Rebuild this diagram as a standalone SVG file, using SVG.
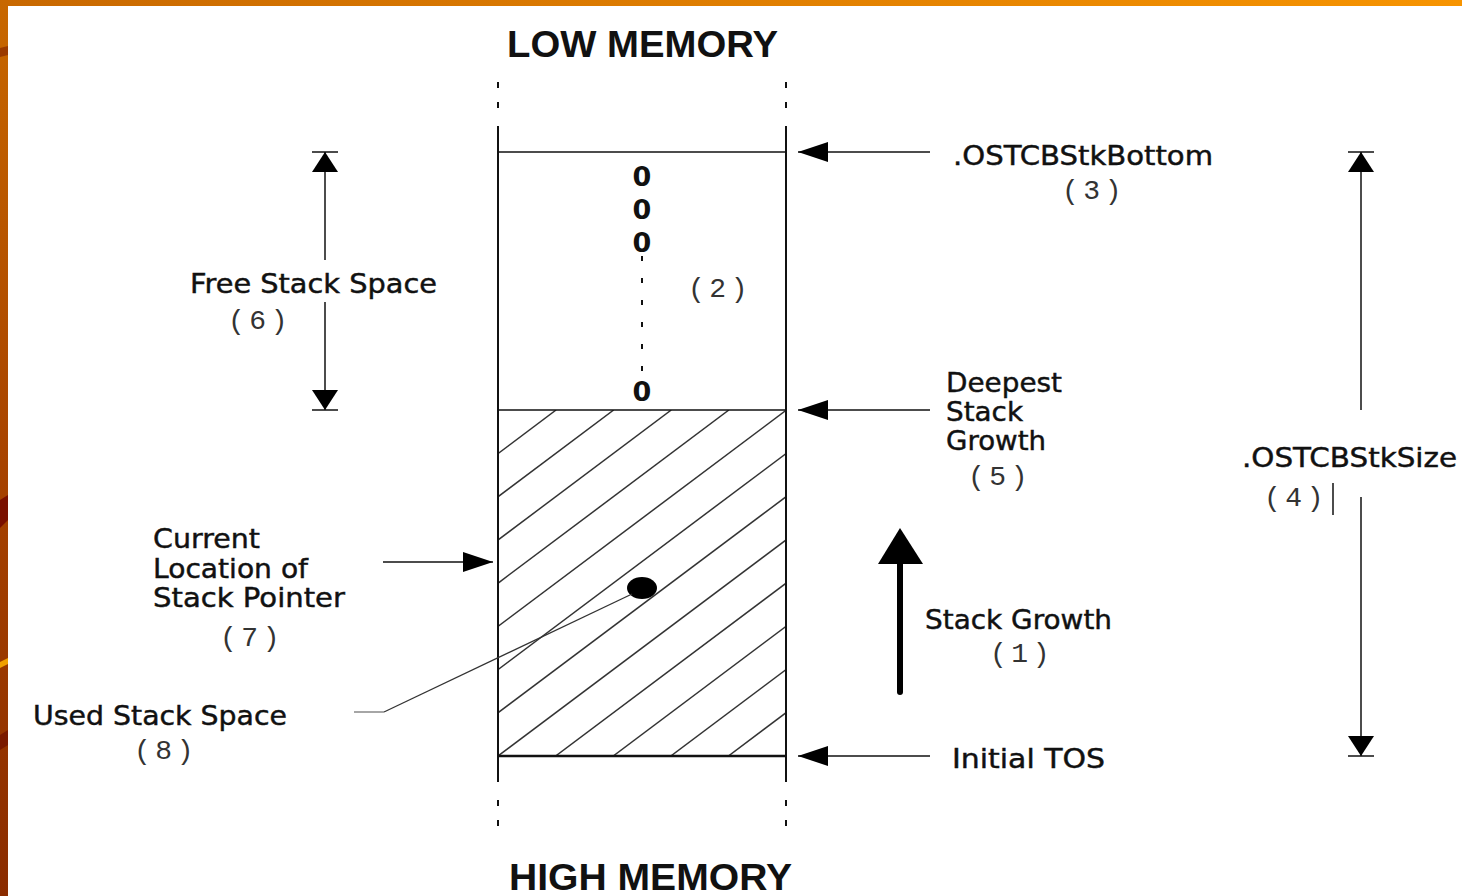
<svg xmlns="http://www.w3.org/2000/svg" width="1462" height="896" viewBox="0 0 1462 896">
  <defs>
    <linearGradient id="topBar" x1="0" y1="0" x2="1" y2="0">
      <stop offset="0" stop-color="#c86800"/>
      <stop offset="1" stop-color="#f79400"/>
    </linearGradient>
    <linearGradient id="leftBar" x1="0" y1="0" x2="0" y2="1">
      <stop offset="0" stop-color="#c86800"/>
      <stop offset="0.5" stop-color="#a84400"/>
      <stop offset="1" stop-color="#8a2c00"/>
    </linearGradient>
    <marker id="ptr" markerUnits="userSpaceOnUse" markerWidth="30" markerHeight="20" refX="30" refY="10" orient="auto">
      <path d="M0,0 L30,10 L0,20 z" fill="#000"/>
    </marker>
    <marker id="dim" markerUnits="userSpaceOnUse" markerWidth="20" markerHeight="26" refX="20" refY="13" orient="auto">
      <path d="M0,0 L20,13 L0,26 z" fill="#000"/>
    </marker>
    <clipPath id="usedClip">
      <rect x="498" y="410" width="288" height="346"/>
    </clipPath>
    <style>
      .lbl { font-family: "DejaVu Sans", "Liberation Sans", sans-serif; font-size: 27px; fill: #111; stroke: #111; stroke-width: 0.45; }
      .num { font-family: "Liberation Mono", "DejaVu Sans Mono", monospace; font-size: 28px; fill: #333; letter-spacing: 4.5px; text-anchor: middle; }
      .title { font-family: "Liberation Sans", Arial, sans-serif; font-weight: bold; font-size: 37px; fill: #111; }
      .zero { font-family: "DejaVu Sans", sans-serif; font-weight: bold; font-size: 27px; fill: #111; text-anchor: middle; }
      .thin { stroke: #111; stroke-width: 1.5; fill: none; }
      .edge { stroke: #111; stroke-width: 2; fill: none; }
      .hatch { stroke: #333; stroke-width: 1.5; }
    </style>
  </defs>

  <rect x="0" y="0" width="1462" height="896" fill="#fff"/>
  <g id="frame">
    <rect x="0" y="0" width="1462" height="6" fill="url(#topBar)"/>
    <rect x="0" y="0" width="8" height="896" fill="url(#leftBar)"/>
    <path d="M0,48 L8,46 L8,55 L0,57 z" fill="#9a3a00"/>
    <path d="M0,500 L8,495 L8,520 L0,528 z" fill="#7a1000"/>
    <path d="M0,662 L8,658 L8,664 L0,668 z" fill="#f0a000"/>
    <path d="M0,735 L8,730 L8,745 L0,750 z" fill="#7a1a00"/>
  </g>

  <g id="titles">
    <text class="title" x="507" y="57" textLength="271" lengthAdjust="spacingAndGlyphs">LOW MEMORY</text>
    <text class="title" x="509" y="890" textLength="283" lengthAdjust="spacingAndGlyphs">HIGH MEMORY</text>
  </g>

  <g id="stack">
    <g clip-path="url(#usedClip)" class="hatch">
      <line x1="37.2" y1="756" x2="498.5" y2="410"/>
      <line x1="94.8" y1="756" x2="556.1" y2="410"/>
      <line x1="152.4" y1="756" x2="613.7" y2="410"/>
      <line x1="210" y1="756" x2="671.3" y2="410"/>
      <line x1="267.6" y1="756" x2="728.9" y2="410"/>
      <line x1="325.2" y1="756" x2="786.5" y2="410"/>
      <line x1="382.8" y1="756" x2="844.1" y2="410"/>
      <line x1="440.4" y1="756" x2="901.7" y2="410"/>
      <line x1="498" y1="756" x2="959.3" y2="410"/>
      <line x1="555.6" y1="756" x2="1016.9" y2="410"/>
      <line x1="613.2" y1="756" x2="1074.5" y2="410"/>
      <line x1="670.8" y1="756" x2="1132.1" y2="410"/>
      <line x1="728.4" y1="756" x2="1189.7" y2="410"/>
    </g>
    <line class="edge" x1="498" y1="126" x2="498" y2="782"/>
    <line class="edge" x1="786" y1="126" x2="786" y2="782"/>
    <path class="edge" d="M498,82 V88 M498,102 V108 M786,82 V88 M786,102 V108 M498,800 V806 M498,820 V826 M786,800 V806 M786,820 V826"/>
    <line class="thin" x1="498" y1="152" x2="786" y2="152"/>
    <line class="thin" x1="498" y1="410" x2="786" y2="410"/>
    <line stroke="#111" stroke-width="2.5" x1="498" y1="756" x2="786" y2="756"/>
    <text class="zero" x="642" y="186">0</text>
    <text class="zero" x="642" y="219">0</text>
    <text class="zero" x="642" y="252">0</text>
    <line x1="642" y1="256" x2="642" y2="372" stroke="#111" stroke-width="2" stroke-dasharray="5,17"/>
    <text class="zero" x="642" y="401">0</text>
    <text class="num" x="720" y="297">(2)</text>
    <ellipse cx="642" cy="588" rx="15" ry="11" fill="#000"/>
  </g>

  <g id="connectors">
    <line class="thin" x1="930" y1="152" x2="798" y2="152" marker-end="url(#ptr)"/>
    <line class="thin" x1="930" y1="410" x2="798" y2="410" marker-end="url(#ptr)"/>
    <line class="thin" x1="930" y1="756" x2="798" y2="756" marker-end="url(#ptr)"/>
    <line class="thin" x1="383" y1="562" x2="493" y2="562" marker-end="url(#ptr)"/>
    <polyline points="632,594 384,712" fill="none" stroke="#333" stroke-width="1.3"/>
    <line x1="354" y1="712" x2="384" y2="712" stroke="#888" stroke-width="1.5"/>
    <line class="thin" x1="312" y1="152" x2="338" y2="152"/>
    <line class="thin" x1="325" y1="260" x2="325" y2="152" marker-end="url(#dim)"/>
    <line class="thin" x1="325" y1="302" x2="325" y2="410" marker-end="url(#dim)"/>
    <line class="thin" x1="312" y1="410" x2="338" y2="410"/>
    <line class="thin" x1="1348" y1="152" x2="1374" y2="152"/>
    <line class="thin" x1="1361" y1="410" x2="1361" y2="152" marker-end="url(#dim)"/>
    <line class="thin" x1="1361" y1="497" x2="1361" y2="756" marker-end="url(#dim)"/>
    <line class="thin" x1="1348" y1="756" x2="1374" y2="756"/>
    <line class="thin" x1="1333" y1="483" x2="1333" y2="515"/>
    <line x1="900" y1="692" x2="900" y2="560" stroke="#000" stroke-width="6" stroke-linecap="round"/>
    <polygon points="900,528 923,564 878,564" fill="#000"/>
  </g>

  <g id="label-free">
    <text class="lbl" x="190" y="293" textLength="247" lengthAdjust="spacingAndGlyphs">Free Stack Space</text>
    <text class="num" x="260" y="329">(6)</text>
  </g>
  <g id="label-bottom">
    <text class="lbl" x="953" y="165" textLength="260" lengthAdjust="spacingAndGlyphs">.OSTCBStkBottom</text>
    <text class="num" x="1094" y="199">(3)</text>
  </g>
  <g id="label-deepest">
    <text class="lbl" x="946" y="392" textLength="116" lengthAdjust="spacingAndGlyphs">Deepest</text>
    <text class="lbl" x="946" y="421" textLength="77" lengthAdjust="spacingAndGlyphs">Stack</text>
    <text class="lbl" x="946" y="450" textLength="100" lengthAdjust="spacingAndGlyphs">Growth</text>
    <text class="num" x="1000" y="485">(5)</text>
  </g>
  <g id="label-size">
    <text class="lbl" x="1242" y="467" textLength="215" lengthAdjust="spacingAndGlyphs">.OSTCBStkSize</text>
    <text class="num" x="1296" y="506">(4)</text>
  </g>
  <g id="label-current">
    <text class="lbl" x="153" y="548" textLength="107" lengthAdjust="spacingAndGlyphs">Current</text>
    <text class="lbl" x="153" y="578" textLength="155" lengthAdjust="spacingAndGlyphs">Location of</text>
    <text class="lbl" x="153" y="607" textLength="192" lengthAdjust="spacingAndGlyphs">Stack Pointer</text>
    <text class="num" x="252" y="646">(7)</text>
  </g>
  <g id="label-growth">
    <text class="lbl" x="925" y="629" textLength="187" lengthAdjust="spacingAndGlyphs">Stack Growth</text>
    <text class="num" x="1022" y="662">(1)</text>
  </g>
  <g id="label-used">
    <text class="lbl" x="33" y="725" textLength="254" lengthAdjust="spacingAndGlyphs">Used Stack Space</text>
    <text class="num" x="166" y="759">(8)</text>
  </g>
  <g id="label-tos">
    <text class="lbl" x="952" y="768" textLength="153" lengthAdjust="spacingAndGlyphs">Initial TOS</text>
  </g>
</svg>
